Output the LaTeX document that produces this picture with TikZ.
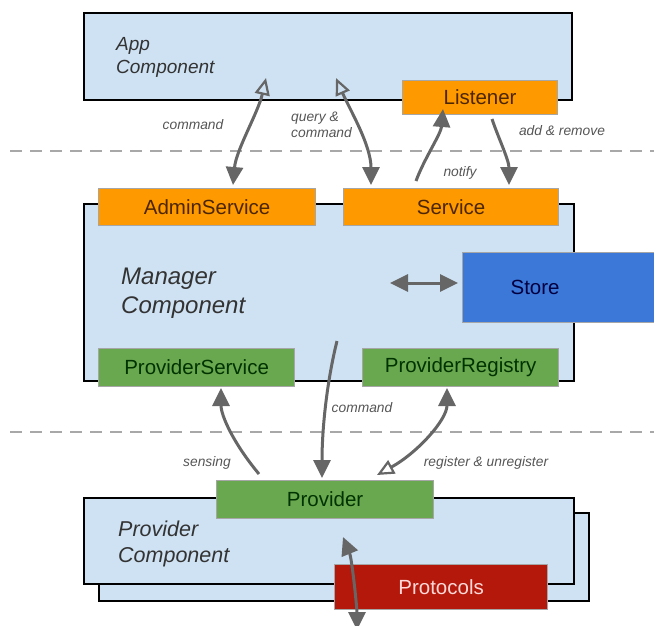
\documentclass[tikz,border=0pt]{standalone}
\usepackage{fontspec}
\setmainfont{Liberation Sans}
\usetikzlibrary{arrows.meta}
\definecolor{compfill}{HTML}{CFE2F3}
\definecolor{svcorange}{HTML}{FF9900}
\definecolor{provgreen}{HTML}{6AA84F}
\definecolor{storeblue}{HTML}{3C78D8}
\definecolor{protored}{HTML}{B3180A}
\definecolor{arrgray}{HTML}{666666}
\definecolor{sepgray}{HTML}{A8A8A8}
\definecolor{labgray}{HTML}{555555}
\begin{document}
\begin{tikzpicture}
    [x=1pt,y=-1pt,
     comp/.style={draw=black,line width=2.2pt,fill=compfill,anchor=north west,inner sep=0pt},
     part/.style={draw=black!35,line width=1.2pt,anchor=north west,inner sep=0pt,
                  font=\fontsize{20.5}{22}\selectfont},
     compname/.style={anchor=west,align=left,text=black!80,inner sep=0pt},
     lab/.style={font=\itshape\fontsize{13.8}{16}\selectfont,text=labgray,align=left,inner sep=0pt},
     sep/.style={draw=sepgray,line width=2.6pt,dash pattern=on 12pt off 8pt},
     flow/.style={draw=arrgray,line width=3pt,-{Triangle[length=18pt,width=17pt]}},
     both/.style={draw=arrgray,line width=3pt,{Triangle[length=18pt,width=17pt]}-{Triangle[length=18pt,width=17pt]}},
     mixed/.style={draw=arrgray,line width=3pt,
                   {Triangle[open,length=17pt,width=15pt,line width=2.2pt]}-{Triangle[length=18pt,width=17pt]}}]
    \useasboundingbox (0,0) rectangle (654,625);
    % layer separators
    \coordinate (s1w) at (10,151);
    \coordinate (s1e) at (654,151);
    \coordinate (s2w) at (10,432);
    \coordinate (s2e) at (654,432);
    \draw [sep] (s1w) -- (s1e);
    \draw [sep] (s2w) -- (s2e);
    % app layer
    \node [comp,minimum width=488pt,minimum height=87pt] (app) at (83,12) {};
    \node [compname,font=\itshape\fontsize{19}{23}\selectfont] (apptxt) at (116,57) {App\\Component};
    \node [part,fill=svcorange,text=orange!30!black,minimum width=155pt,minimum height=34pt] (listener) at (402,80) {Listener};
    % manager layer
    \node [comp,minimum width=490pt,minimum height=177pt] (mgr) at (83,203) {};
    \node [compname,font=\itshape\fontsize{24}{29}\selectfont] (mgrtxt) at (121,293) {Manager\\Component};
    \node [part,fill=svcorange,text=orange!30!black,minimum width=217pt,minimum height=37pt] (admin) at (98,188) {AdminService};
    \node [part,fill=svcorange,text=orange!30!black,minimum width=215pt,minimum height=37pt] (service) at (343,188) {Service};
    \node [part,fill=storeblue,text=blue!25!black,minimum width=200pt,minimum height=70pt,
           text width=104pt,align=left] (store) at (462,252) {Store};
    \node [part,fill=provgreen,text=green!20!black,minimum width=196pt,minimum height=38pt] (provsvc) at (98,348) {ProviderService};
    \node [part,fill=provgreen,text=green!20!black,minimum width=196pt,minimum height=38pt] (provreg) at (362,348) {ProviderRegistry};
    % provider layer
    \node [comp,minimum width=490pt,minimum height=88pt] (provback) at (98,512) {};
    \node [comp,minimum width=490pt,minimum height=86pt] (provfront) at (83,497) {};
    \node [compname,font=\itshape\fontsize{21.5}{26}\selectfont] (provtxt) at (118,544) {Provider\\Component};
    \node [part,fill=provgreen,text=green!20!black,minimum width=217pt,minimum height=38pt] (provider) at (216,480) {Provider};
    \node [part,fill=protored,text=red!15!white,minimum width=213pt,minimum height=45pt] (protocols) at (334,564) {Protocols};
    % connectors
    \coordinate (cmdA) at (266,78);
    \coordinate (cmdB) at (233,185);
    \coordinate (qryA) at (336,78);
    \coordinate (qryB) at (371,185);
    \coordinate (ntfA) at (416,181);
    \coordinate (ntfB) at (443,109);
    \coordinate (addA) at (492,119);
    \coordinate (addB) at (509,185);
    \coordinate (stA) at (390,283);
    \coordinate (stB) at (458,283);
    \coordinate (pcmA) at (337,341);
    \coordinate (pcmB) at (322,478);
    \coordinate (snsA) at (259,474);
    \coordinate (snsB) at (221,388);
    \coordinate (regA) at (377,475);
    \coordinate (regB) at (447,388);
    \coordinate (ptcA) at (343,537);
    \coordinate (ptcB) at (357,630);
    \draw [mixed] (cmdA) .. controls +(-8,35) and +(3,-35) .. (cmdB);
    \draw [mixed] (qryA) .. controls +(14,32) and +(0,-40) .. (qryB);
    \draw [flow] (ntfA) .. controls +(8,-22) and +(-2,25) .. (ntfB);
    \draw [flow] (addA) .. controls +(6,18) and +(0,-25) .. (addB);
    \draw [both] (stA) -- (stB);
    \draw [flow] (pcmA) .. controls +(-10,40) and +(0,-50) .. (pcmB);
    \draw [flow] (snsA) .. controls +(-25,-30) and +(0,28) .. (snsB);
    \draw [mixed] (regA) .. controls +(40,-22) and +(0,32) .. (regB);
    \draw [both] (ptcA) .. controls +(9,22) and +(0,-22) .. (ptcB);
    % connector labels
    \node [lab] (cmdlab) at (193,125) {command};
    \node [lab,anchor=west] (qrylab) at (291,125) {query \&\\command};
    \node [lab] (ntflab) at (460,173) {notify};
    \node [lab] (addlab) at (562,131) {add \& remove};
    \node [lab] (pcmlab) at (362,408) {command};
    \node [lab] (snslab) at (207,463) {sensing};
    \node [lab] (reglab) at (486,463) {register \& unregister};
\end{tikzpicture}
\end{document}
